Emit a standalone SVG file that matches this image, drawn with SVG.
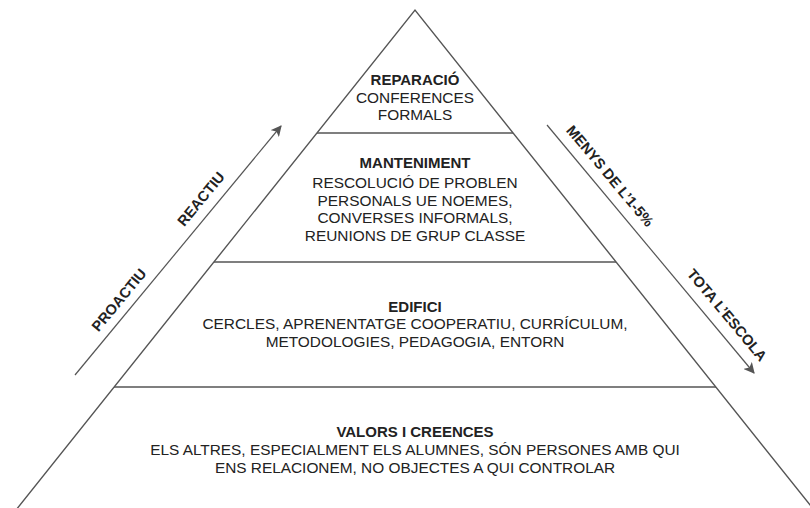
<svg xmlns="http://www.w3.org/2000/svg" width="810" height="508" viewBox="0 0 810 508">
<style>
.ln{stroke:#555;stroke-width:1.4;fill:none}
.t{font-family:"Liberation Sans",Arial,sans-serif;font-size:15.4px;fill:#222;text-anchor:middle}
.b{font-weight:bold;font-size:15px}
.lab{font-family:"Liberation Sans",Arial,sans-serif;font-size:14.6px;font-weight:bold;fill:#222;text-anchor:middle}
</style>
<defs>
<marker id="ah" viewBox="0 0 10 10" refX="9" refY="5" markerWidth="11" markerHeight="11" markerUnits="userSpaceOnUse" orient="auto">
<path d="M0,0 L10,5 L0,10 L2.5,5 Z" fill="#555"/>
</marker>
</defs>
<rect width="810" height="508" fill="#fff"/>
<g id="pyramid">
<path class="ln" d="M16,510 L415,10 L814,510"/>
</g>
<g id="connectors">
<line class="ln" x1="317" y1="133" x2="513" y2="133"/>
<line class="ln" x1="214" y1="262" x2="616" y2="262"/>
<line class="ln" x1="114" y1="387" x2="716" y2="387"/>
<path class="ln" d="M75,375 L281,126" marker-end="url(#ah)" style="stroke-width:1.2"/>
<path class="ln" d="M547,125 L754,373" marker-end="url(#ah)" style="stroke-width:1.2"/>
</g>
<g id="reparacio">
<text class="t b" x="415" y="85">REPARACIÓ</text>
<text class="t" x="415" y="102.5">CONFERENCES</text>
<text class="t" x="415" y="120">FORMALS</text>
</g>
<g id="manteniment">
<text class="t b" x="415" y="168">MANTENIMENT</text>
<text class="t" x="415" y="188">RESCOLUCIÓ DE PROBLEN</text>
<text class="t" x="415" y="205.5">PERSONALS UE NOEMES,</text>
<text class="t" x="415" y="223">CONVERSES INFORMALS,</text>
<text class="t" x="415" y="240.5">REUNIONS DE GRUP CLASSE</text>
</g>
<g id="edifici">
<text class="t b" x="415" y="311.5">EDIFICI</text>
<text class="t" x="415" y="329">CERCLES, APRENENTATGE COOPERATIU, CURRÍCULUM,</text>
<text class="t" x="415" y="346.5">METODOLOGIES, PEDAGOGIA, ENTORN</text>
</g>
<g id="valors">
<text class="t b" x="415" y="437">VALORS I CREENCES</text>
<text class="t" x="415" y="455">ELS ALTRES, ESPECIALMENT ELS ALUMNES, SÓN PERSONES AMB QUI</text>
<text class="t" x="415" y="473">ENS RELACIONEM, NO OBJECTES A QUI CONTROLAR</text>
</g>
<g id="label-proactiu">
<text class="lab" transform="translate(119,300) rotate(-50.5)" y="5">PROACTIU</text>
</g>
<g id="label-reactiu">
<text class="lab" transform="translate(201,199) rotate(-50.5)" y="5">REACTIU</text>
</g>
<g id="label-menys">
<text class="lab" transform="translate(610,176) rotate(50.1)" y="5">MENYS DE L’1-5%</text>
</g>
<g id="label-tota">
<text class="lab" transform="translate(727,315) rotate(50.1)" y="5">TOTA L’ESCOLA</text>
</g>
</svg>
